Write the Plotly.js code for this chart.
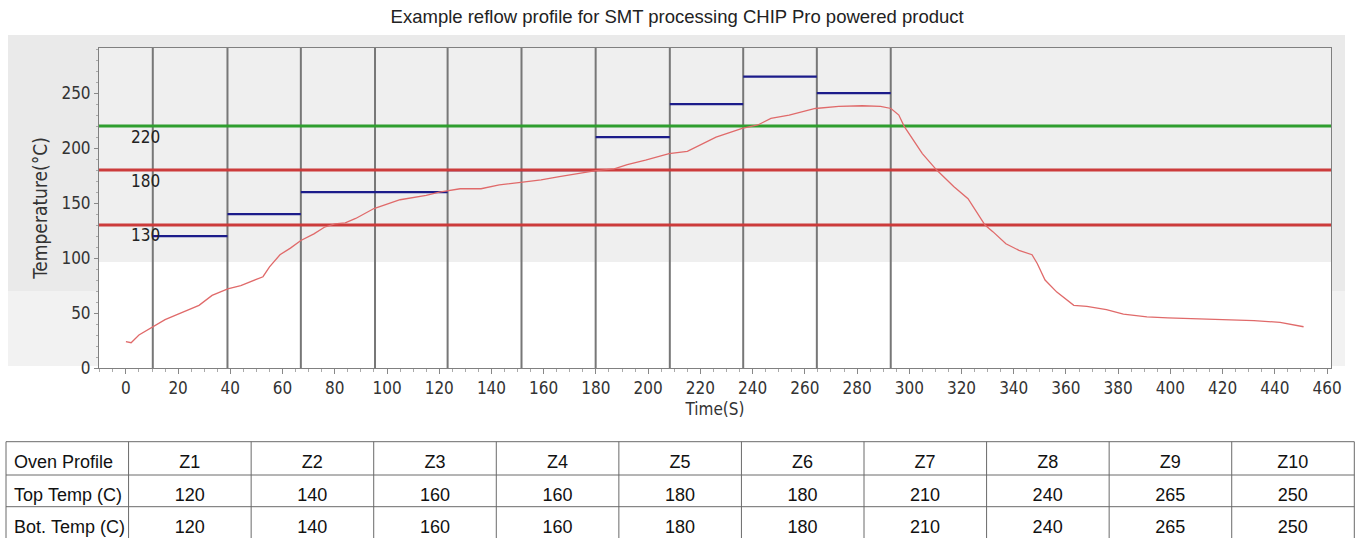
<!DOCTYPE html>
<html>
<head>
<meta charset="utf-8">
<script src="https://cdn.plot.ly/plotly-3.0.1.min.js"></script>
<style>html,body{margin:0;padding:0;background:#fff;overflow:hidden;}#chart{width:1357px;height:560px;}</style>
</head>
<body>
<div id="chart"></div>
<script>
// ---- data ----
const timeS = [0,2,5,10,15,20,25,28,33,39,44,49,52.5,55,59,63,67,72,76,80,84,88,95,105,115,120,128,136,143,152,159,166,174,180,187,192,199,208,215,220,226,236,242,247,254,264,273,282,289,293,296,298,301.5,305,310.5,317,322.5,326,329,332,337,342,347,349,352,356.5,363,368,375.5,382,391,399,411,421.5,432,442,447,451];
const tempC = [24,23,30,37,44,49,54,57,66,72,75,80,83,92,103,109,116,122,128,131,132,136,145,153,157,160,163,163,166.5,169,171,174,177,179.5,181,185,189,195,197,203,210,218,221,227,230,236,238,238.5,238,236,230,220,207.5,195,180,165,154,141,130,124,113,107,103,95,80,69,57,56,53,49,46.5,45.5,44.5,44,43,41.5,39,37.5];
const zones = ['Z1','Z2','Z3','Z4','Z5','Z6','Z7','Z8','Z9','Z10'];
const topTemp = [120,140,160,160,180,180,210,240,265,250];
const botTemp = [120,140,160,160,180,180,210,240,265,250];
const zoneEdges = [10.3,38.9,67.0,95.4,123.2,151.5,179.9,208.3,236.4,264.6,292.9];
const refLevels = [130,180,220];
const rowLabels = ['Top Temp (C)','Bot. Temp (C)'];
const headerFirst = 'Oven Profile';

// ---- geometry helpers (figure is 560 tall, the window shows the top 538 px) ----
const W = 1357, H = 560, ML = 6, MR = 3;
const PW = W - ML - MR;
const px = v => (v - ML) / PW;
const py = v => (H - v) / H;

const tickFont = {family:'DejaVu Sans Condensed, DejaVu Sans, sans-serif', size:17, color:'#333'};
const tableFont = {family:'Liberation Sans, Arial, sans-serif', size:18, color:'#111'};
const XR = [-10.3, 461.5], YR = [0, 291];

// ---- traces ----
const setX = [], setY = [];
zones.forEach((z,i)=>{ setX.push(zoneEdges[i], zoneEdges[i+1], null); setY.push(topTemp[i], topTemp[i], null); });

const traces = [];
traces.push({type:'scatter', mode:'lines', x:setX, y:setY, line:{color:'#1c1c8a', width:2.3}, hoverinfo:'skip', showlegend:false});
refLevels.forEach(v=>{
  traces.push({type:'scatter', mode:'lines', x:XR, y:[v,v], line:{color: v===220 ? '#2f9e2f' : '#cc3b3b', width:3}, hoverinfo:'skip', showlegend:false});
});
traces.push({type:'scatter', mode:'lines', x:timeS, y:tempC, line:{color:'#e06a6a', width:1.3}, hoverinfo:'skip', showlegend:false});

// table (grid lines are drawn as shapes so the text can sit where the reference has it)
const nbsp = s => String(s).replace(/ /g, '\u00a0');
const headerVals = [headerFirst].concat(zones).map(nbsp);
const cellVals = [rowLabels.map(nbsp)].concat(zones.map((z,i)=>[topTemp[i], botTemp[i]]));
const aligns = ['left'].concat(zones.map(()=> 'center'));
traces.push({
  type:'table',
  domain:{x:[0,1], y:[py(547), py(446.7)]},
  columnwidth: headerVals.map(()=>1),
  header:{values:headerVals, align:aligns, height:33, fill:{color:'#fff'}, line:{color:'rgba(0,0,0,0)', width:0}, font:tableFont},
  cells:{values:cellVals, align:aligns, height:32, fill:{color:'#fff'}, line:{color:'rgba(0,0,0,0)', width:0}, font:tableFont}
});

// ---- shapes ----
const shapes = [
  {type:'rect', xref:'paper', yref:'paper', x0:px(8), x1:px(1345), y0:py(291), y1:py(35), fillcolor:'#eaeaea', line:{width:0}, layer:'below'},
  {type:'rect', xref:'paper', yref:'paper', x0:px(8), x1:px(1345), y0:py(366), y1:py(291), fillcolor:'#f2f2f2', line:{width:0}, layer:'below'},
  {type:'rect', xref:'x domain', yref:'y', x0:0, x1:1, y0:0, y1:96.5, fillcolor:'#ffffff', line:{width:0}, layer:'below'},
  {type:'rect', xref:'x domain', yref:'y', x0:0, x1:1, y0:96.5, y1:291, fillcolor:'#efefef', line:{width:0}, layer:'below'}
];
zoneEdges.forEach(e=>{
  shapes.push({type:'line', xref:'x', yref:'y domain', x0:e, x1:e, y0:0, y1:1, line:{color:'#777777', width:2}, layer:'below'});
});
// table grid
const tLeft = 6, tRight = 1354.3, nCols = headerVals.length;
[441.7, 475, 506.7, 538.5].forEach(yy=>{
  shapes.push({type:'line', xref:'paper', yref:'paper', x0:px(tLeft), x1:px(tRight), y0:py(yy), y1:py(yy), line:{color:'#6a6a6a', width:1}, layer:'above'});
});
for (let k = 0; k <= nCols; k++) {
  const xx = tLeft + k * (tRight - tLeft) / nCols;
  shapes.push({type:'line', xref:'paper', yref:'paper', x0:px(xx), x1:px(xx), y0:py(560), y1:py(441.7), line:{color:'#6a6a6a', width:1}, layer:'above'});
}

const annotations = refLevels.map(v=>({x:1, y:v-9.5, xref:'x', yref:'y', text:String(v), showarrow:false, xanchor:'left', yanchor:'middle', font:{family:tickFont.family, size:17, color:'#222'}}));

const layout = {
  width:W, height:H,
  margin:{l:ML, r:MR, t:0, b:0, pad:0},
  paper_bgcolor:'#ffffff', plot_bgcolor:'rgba(0,0,0,0)',
  showlegend:false,
  title:{text:'Example reflow profile for SMT processing CHIP Pro powered product', xref:'container', yref:'container', x:0.499, y:1-17/H, xanchor:'center', yanchor:'middle',
         font:{family:'Liberation Sans, Arial, sans-serif', size:18.5, color:'#222'}},
  xaxis:{domain:[px(99), px(1331)], range:XR, tick0:0, dtick:20, ticks:'outside', ticklen:5, tickcolor:'#888', tickwidth:1,
         showline:true, linecolor:'#808080', linewidth:1, mirror:true, showgrid:false, zeroline:false,
         minor:{dtick:5, ticks:'outside', ticklen:3, tickcolor:'#aaa', showgrid:false},
         tickfont:tickFont, title:{text:'Time(S)', font:{family:tickFont.family, size:17, color:'#333'}, standoff:5}, fixedrange:true},
  yaxis:{domain:[py(368), py(48)], range:YR, tick0:0, dtick:50, ticks:'outside', ticklen:4, tickcolor:'#888', tickwidth:1,
         showline:true, linecolor:'#808080', linewidth:1, mirror:true, showgrid:false, zeroline:false,
         minor:{dtick:10, ticks:'outside', ticklen:2, tickcolor:'#aaa', showgrid:false},
         tickfont:tickFont, title:{text:'Temperature(°C)', font:{family:tickFont.family, size:19, color:'#333'}, standoff:8}, fixedrange:true},
  shapes:shapes,
  annotations:annotations
};

Plotly.newPlot('chart', traces, layout, {displayModeBar:false, staticPlot:true});
</script>
</body>
</html>
